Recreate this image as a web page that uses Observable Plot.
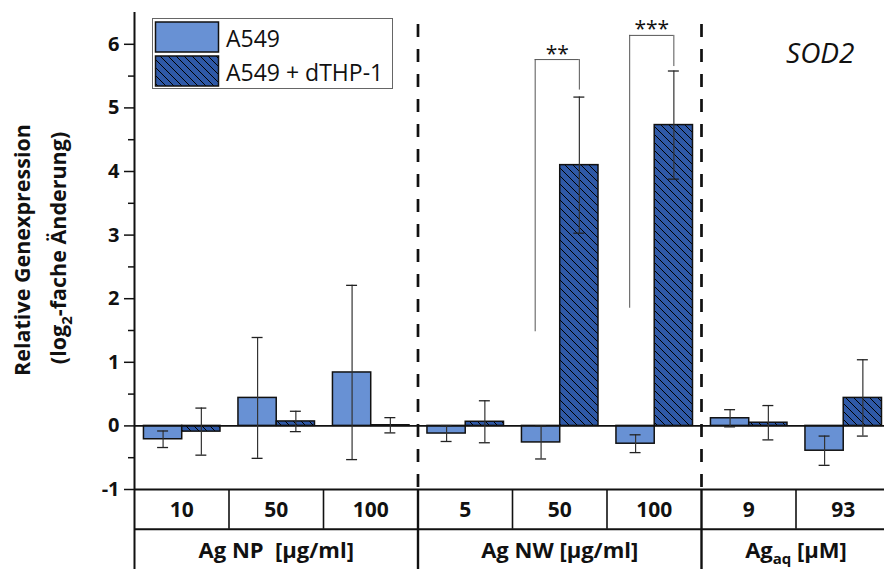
<!DOCTYPE html>
<html>
<head>
<meta charset="utf-8">
<script src="https://cdn.jsdelivr.net/npm/d3@7"></script>
<script src="https://cdn.jsdelivr.net/npm/@observablehq/plot@0.6"></script>
<style>
  html, body { margin: 0; padding: 0; background: #fff; overflow: hidden; }
  #chart { width: 884px; height: 569px; }
  svg { font-family: "Open Sans", sans-serif; }
</style>
</head>
<body>
<div id="chart"></div>
<script>
// ---------- data ----------
const categories = ["10", "50", "100", "5", "50", "100", "9", "93"];
const groups = ["Ag NP  [µg/ml]", "Ag NW [µg/ml]", "Ag_aq [µM]"];
const groupSizes = [3, 3, 2];
const seriesNames = ["A549", "A549 + dTHP-1"];
const meanA549 = [-0.21, 0.44, 0.84, -0.12, -0.26, -0.28, 0.12, -0.39];
const sdA549   = [0.13, 0.95, 1.37, 0.125, 0.26, 0.14, 0.135, 0.23];
const meanCo   = [-0.09, 0.07, 0.01, 0.065, 4.10, 4.73, 0.05, 0.44];
const sdCo     = [0.37, 0.16, 0.12, 0.33, 1.07, 0.85, 0.27, 0.60];
const yTicks = [-1, 0, 1, 2, 3, 4, 5, 6];
const yMinorTicks = [-0.5, 0.5, 1.5, 2.5, 3.5, 4.5, 5.5];
const geneLabel = "SOD2";
const significance = [
  {slot: 4, label: "**",  yLeft: 1.48, yTop: 5.76, yRight: 5.28},
  {slot: 5, label: "***", yLeft: 1.85, yTop: 6.14, yRight: 5.65}
];

// ---------- styling / layout ----------
const lightBlue = "#6891d4";
const darkBlue = "#2f59a7";
const barStart = 0.1, barWidth = 0.405, capHalf = 0.058, bracketInset = 0.24;
const tableY = {catBottom: -1.625, cat: -1.33, group: -1.97, bottom: -2.3};

const rows = [];
categories.forEach((c, i) => {
  rows.push({slot: i, s: 0, mean: meanA549[i], sd: sdA549[i]});
  rows.push({slot: i, s: 1, mean: meanCo[i], sd: sdCo[i]});
});
rows.forEach(d => {
  d.x1 = d.slot + barStart + d.s * barWidth;
  d.x2 = d.x1 + barWidth;
  d.cx = (d.x1 + d.x2) / 2;
  d.lo = d.mean - d.sd;
  d.hi = d.mean + d.sd;
});
const groupStarts = [];
let acc = 0;
const groupCenters = groupSizes.map(n => { groupStarts.push(acc); const c = acc + n / 2; acc += n; return c; });
const groupBounds = groupStarts.slice(1);
const innerBounds = d3.range(1, categories.length).filter(b => !groupBounds.includes(b));
const nSlots = categories.length;

const sig = significance.map(d => ({
  ...d,
  xl: d.slot + bracketInset,
  xr: d.slot + barStart + 1.5 * barWidth,
}));
sig.forEach(d => d.xm = (d.xl + d.xr) / 2);

const chart = Plot.plot({
  width: 884,
  height: 569,
  marginLeft: 134,
  marginRight: 0,
  marginTop: 12,
  marginBottom: 80,
  style: {fontFamily: "Open Sans", fontSize: "18px", background: "white", color: "#111"},
  x: {domain: [0, nSlots], range: [134, 890], axis: null},
  y: {domain: [-1, 6.5]},
  marks: [
    // bars
    Plot.rectY(rows.filter(d => d.s === 0), {x1: "x1", x2: "x2", y1: 0, y2: "mean", fill: lightBlue, stroke: "#111", strokeWidth: 1.5}),
    Plot.rectY(rows.filter(d => d.s === 1), {x1: "x1", x2: "x2", y1: 0, y2: "mean", fill: "url(#hatch)", stroke: "#111", strokeWidth: 1.5}),
    // zero line
    Plot.ruleY([0], {x1: 0, x2: nSlots, stroke: "#111", strokeWidth: 1.6}),
    // error bars
    Plot.ruleX(rows, {x: "cx", y1: "lo", y2: "hi", stroke: "#333", strokeWidth: 1.2}),
    Plot.ruleY(rows, {y: "lo", x1: d => d.cx - capHalf, x2: d => d.cx + capHalf, stroke: "#222", strokeWidth: 1.3}),
    Plot.ruleY(rows, {y: "hi", x1: d => d.cx - capHalf, x2: d => d.cx + capHalf, stroke: "#222", strokeWidth: 1.3}),
    // significance brackets
    Plot.ruleX(sig, {x: "xl", y1: "yLeft", y2: "yTop", stroke: "#555", strokeWidth: 1}),
    Plot.ruleX(sig, {x: "xr", y1: "yRight", y2: "yTop", stroke: "#555", strokeWidth: 1}),
    Plot.ruleY(sig, {y: "yTop", x1: "xl", x2: "xr", stroke: "#555", strokeWidth: 1}),
    Plot.text(sig, {x: "xm", y: "yTop", text: "label", lineAnchor: "bottom", dy: 1, fontSize: 21, fill: "#111"}),
    // group dividers (dashed in plot, solid in table)
    Plot.ruleX(groupBounds, {y1: 6.5, y2: -1, stroke: "#111", strokeWidth: 2.7, strokeDasharray: "13,12", strokeDashoffset: 13}),
    Plot.ruleX(groupBounds, {y1: -1, y2: tableY.bottom, stroke: "#111", strokeWidth: 2.4}),
    Plot.ruleX(innerBounds, {y1: -1, y2: tableY.catBottom, stroke: "#111", strokeWidth: 1.6}),
    // table horizontal lines
    Plot.ruleY([-1], {x1: 0, x2: nSlots, stroke: "#111", strokeWidth: 2.2}),
    Plot.ruleY([tableY.catBottom], {x1: 0, x2: nSlots, stroke: "#111", strokeWidth: 1.8}),
    // left axis line
    Plot.ruleX([0], {y1: 6.5, y2: tableY.bottom, stroke: "#111", strokeWidth: 2}),
    // axis ticks
    Plot.axisY(yMinorTicks, {tickSize: 6, text: null, strokeWidth: 1.5, stroke: "#111"}),
    Plot.axisY(yTicks, {tickSize: 10, tickPadding: 5, tickFormat: d => String(d), fontWeight: "bold", fontSize: 20, strokeWidth: 1.5, stroke: "#111", label: null}),
    // table labels
    Plot.text(categories, {x: (d, i) => i + 0.5, y: tableY.cat, text: d => d, fontWeight: "bold", fontSize: 21, fill: "#111"}),
    Plot.text(groups, {x: (d, i) => groupCenters[i], y: tableY.group, text: d => d, fontWeight: "bold", fontSize: 22, fill: "#111"}),
    // gene label
    Plot.text([geneLabel], {frameAnchor: "top-right", text: d => d, textAnchor: "end", lineAnchor: "top", dx: -30, dy: 31, fontSize: 28, fontStyle: "italic", fill: "#111"})
  ]
});

document.getElementById("chart").appendChild(chart);
const svg = d3.select(chart);

// hatch pattern
const defs = svg.insert("defs", ":first-child");
const pat = defs.append("pattern").attr("id", "hatch").attr("patternUnits", "userSpaceOnUse").attr("width", 8).attr("height", 8);
pat.append("rect").attr("width", 8).attr("height", 8).attr("fill", darkBlue);
pat.append("path").attr("d", "M-1,-1L9,9M-1,7L1,9M7,-1L9,1").attr("stroke", "#000").attr("stroke-width", 1);

// subscript in group label
svg.selectAll("text").filter(function() { return this.textContent === groups[2]; }).each(function() {
  const t = d3.select(this);
  const parts = groups[2].split(/_| /);
  t.text(null);
  t.append("tspan").text(parts[0]);
  t.append("tspan").attr("dy", 6).attr("font-size", 15).text(parts[1]);
  t.append("tspan").attr("dy", -6).text(" " + parts.slice(2).join(" "));
});

// y-axis title
const yTitle = svg.append("g").attr("font-weight", "bold").attr("font-size", 21.5).attr("fill", "#111").attr("text-anchor", "middle");
yTitle.append("text").attr("transform", "translate(30,250) rotate(-90)").text("Relative Genexpression");
const t2 = yTitle.append("text").attr("transform", "translate(66,248) rotate(-90)");
t2.append("tspan").text("(log");
t2.append("tspan").attr("dy", 6).attr("font-size", 15).text("2");
t2.append("tspan").attr("dy", -6).text("-fache Änderung)");

// legend
const lg = svg.append("g").attr("text-anchor", "start");
lg.append("rect").attr("x", 152.5).attr("y", 18.5).attr("width", 240).attr("height", 70).attr("fill", "white").attr("stroke", "#666").attr("stroke-width", 1);
const swFill = [lightBlue, "url(#hatch)"];
seriesNames.forEach((name, i) => {
  lg.append("rect").attr("x", 155.5).attr("y", 22 + i * 34).attr("width", 63).attr("height", 30).attr("fill", swFill[i]).attr("stroke", "#111").attr("stroke-width", 1.5);
  lg.append("text").attr("x", 226).attr("y", 47 + i * 34).attr("font-size", 23).attr("fill", "#111").text(name);
});
</script>
</body>
</html>
